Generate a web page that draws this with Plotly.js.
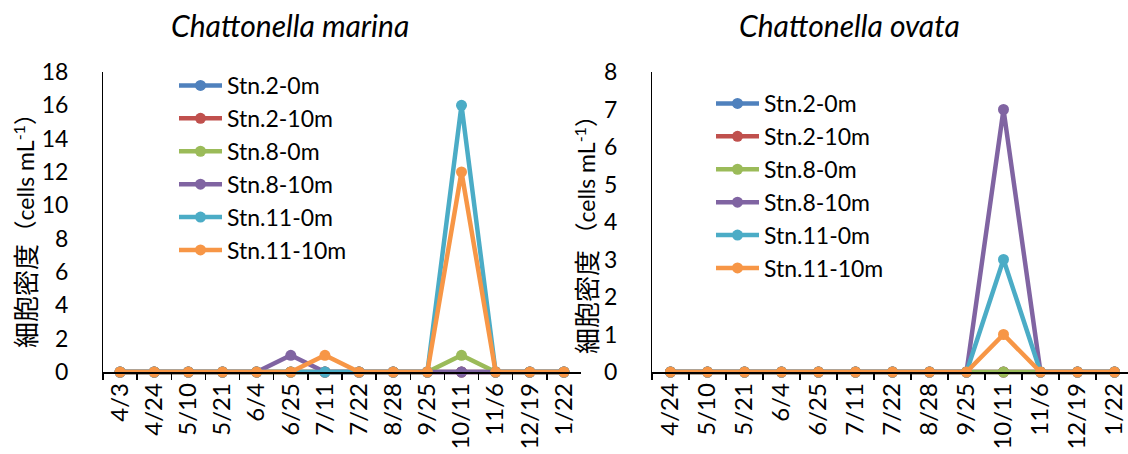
<!DOCTYPE html>
<html>
<head>
<meta charset="utf-8">
<script src="https://cdn.plot.ly/plotly-3.0.1.min.js"></script>
<style>
  html, body { margin: 0; padding: 0; background: #fff; }
  #chart { width: 1128px; height: 454px; }
</style>
</head>
<body>
<div id="chart"></div>
<script>
// Sampling dates
const datesMarina = ["4/3", "4/24", "5/10", "5/21", "6/4", "6/25", "7/11", "7/22", "8/28", "9/25", "10/11", "11/6", "12/19", "1/22"];
const datesOvata = ["4/24", "5/10", "5/21", "6/4", "6/25", "7/11", "7/22", "8/28", "9/25", "10/11", "11/6", "12/19", "1/22"];

const stationNames = ["Stn.2-0m", "Stn.2-10m", "Stn.8-0m", "Stn.8-10m", "Stn.11-0m", "Stn.11-10m"];
const stationColors = ["#4F81BD", "#C0504D", "#9BBB59", "#8064A2", "#4BACC6", "#F79646"];

// Chattonella marina cell density (cells mL-1)
const marinaStn2_0m  = [0, 0, 0, 0, 0, 0, 0, 0, 0, 0, 0, 0, 0, 0];
const marinaStn2_10m = [0, 0, 0, 0, 0, 0, 0, 0, 0, 0, 0, 0, 0, 0];
const marinaStn8_0m  = [0, 0, 0, 0, 0, 0, 0, 0, 0, 0, 1, 0, 0, 0];
const marinaStn8_10m = [0, 0, 0, 0, 0, 1, 0, 0, 0, 0, 0, 0, 0, 0];
const marinaStn11_0m = [0, 0, 0, 0, 0, 0, 0, 0, 0, 0, 16, 0, 0, 0];
const marinaStn11_10m = [0, 0, 0, 0, 0, 0, 1, 0, 0, 0, 12, 0, 0, 0];

// Chattonella ovata cell density (cells mL-1)
const ovataStn2_0m  = [0, 0, 0, 0, 0, 0, 0, 0, 0, 0, 0, 0, 0];
const ovataStn2_10m = [0, 0, 0, 0, 0, 0, 0, 0, 0, 0, 0, 0, 0];
const ovataStn8_0m  = [0, 0, 0, 0, 0, 0, 0, 0, 0, 0, 0, 0, 0];
const ovataStn8_10m = [0, 0, 0, 0, 0, 0, 0, 0, 0, 7, 0, 0, 0];
const ovataStn11_0m = [0, 0, 0, 0, 0, 0, 0, 0, 0, 3, 0, 0, 0];
const ovataStn11_10m = [0, 0, 0, 0, 0, 0, 0, 0, 0, 1, 0, 0, 0];

const marinaSeries = [marinaStn2_0m, marinaStn2_10m, marinaStn8_0m, marinaStn8_10m, marinaStn11_0m, marinaStn11_10m];
const ovataSeries = [ovataStn2_0m, ovataStn2_10m, ovataStn8_0m, ovataStn8_10m, ovataStn11_0m, ovataStn11_10m];

const FONT = "Lato, 'Noto Sans CJK JP', sans-serif";
const CJK_FONT = "'Noto Sans CJK JP', sans-serif";
const W = 1128, H = 454;
const px = v => v / W;
const py = v => (H - v) / H;

function makeTraces(dates, series, xa, ya, legendId) {
  return series.map((vals, i) => ({
    type: "scatter",
    mode: "lines+markers",
    x: dates,
    y: vals,
    xaxis: xa,
    yaxis: ya,
    name: stationNames[i],
    legend: legendId,
    legendgroup: legendId + i,
    line: { color: stationColors[i], width: 4.5 },
    marker: { color: stationColors[i], size: 11, symbol: "circle" },
    cliponaxis: false,
    hoverinfo: "x+y+name"
  }));
}

const traces = [
  ...makeTraces(datesMarina, marinaSeries, "x", "y", "legend"),
  ...makeTraces(datesOvata, ovataSeries, "x2", "y2", "legend2")
];

const zeroY = py(372);      // paper position of value 0
const topY = py(72);        // paper position of axis maximum
const padBottom = py(377);  // plot area reaches a little below zero

const xCommon = {
  type: "category",
  showline: true,
  linecolor: "#000",
  linewidth: 1.5,
  ticks: "outside",
  tickson: "boundaries",
  ticklen: 6,
  tickwidth: 1.5,
  tickcolor: "#000",
  tickangle: -90,
  tickfont: { family: FONT, size: 24, color: "#000" },
  showgrid: false,
  zeroline: false,
  fixedrange: true,
  anchor: "free",
  position: zeroY
};

const yCommon = {
  showline: true,
  linecolor: "#000",
  linewidth: 1,
  ticks: "outside",
  ticklen: 29,
  tickcolor: "rgba(0,0,0,0)",
  tickfont: { family: FONT, size: 23, color: "#000" },
  showgrid: false,
  zeroline: false,
  fixedrange: true,
  domain: [padBottom, topY]
};

const LEGEND_LINE = 43;

const legendCommon = {
  xanchor: "left",
  yanchor: "top",
  bgcolor: "rgba(0,0,0,0)",
  font: { family: FONT, size: 23, color: "#000" },
  traceorder: "grouped",
  tracegroupgap: 0,
  itemwidth: LEGEND_LINE,
  itemclick: false,
  itemdoubleclick: false
};

// Vertical axis title: Japanese part and unit part set at their own sizes
const yTitleJa = "細胞密度";
const yTitleUnit = "（cells mL<sup>-1</sup>）";

function yTitleParts(xPix, bottomPix, topPix) {
  return [
    {
      text: yTitleJa,
      xref: "paper", yref: "paper",
      x: px(xPix), y: py(bottomPix),
      xanchor: "center", yanchor: "bottom",
      textangle: -90,
      showarrow: false,
      font: { family: CJK_FONT, size: 26, color: "#000" }
    },
    {
      text: yTitleUnit,
      xref: "paper", yref: "paper",
      x: px(xPix), y: py(topPix),
      xanchor: "center", yanchor: "top",
      textangle: -90,
      showarrow: false,
      font: { family: FONT, size: 23, color: "#000" }
    }
  ];
}

const layout = {
  width: W,
  height: H,
  margin: { l: 0, r: 0, t: 0, b: 0 },
  paper_bgcolor: "#fff",
  plot_bgcolor: "rgba(0,0,0,0)",
  showlegend: true,
  xaxis: Object.assign({}, xCommon, {
    domain: [px(103), px(581)],
    range: [-0.5, 13.5]
  }),
  yaxis: Object.assign({}, yCommon, {
    anchor: "x",
    range: [-5 / (300 / 18), 18],
    tickvals: [0, 2, 4, 6, 8, 10, 12, 14, 16, 18]
  }),
  xaxis2: Object.assign({}, xCommon, {
    domain: [px(652), 1],
    range: [-0.5, 12.5 - (652 + 13 * 37 - W) / 37]
  }),
  yaxis2: Object.assign({}, yCommon, {
    anchor: "x2",
    range: [-5 / (300 / 8), 8],
    tickvals: [0, 1, 2, 3, 4, 5, 6, 7, 8]
  }),
  legend: Object.assign({}, legendCommon, { x: px(174), y: py(64) }),
  legend2: Object.assign({}, legendCommon, { x: px(711), y: py(82) }),
  annotations: [
    {
      text: "Chattonella marina",
      xref: "paper", yref: "paper",
      x: px(290), y: py(25),
      xanchor: "center", yanchor: "middle",
      showarrow: false,
      font: { family: FONT, size: 30, color: "#000", style: "italic" }
    },
    {
      text: "Chattonella ovata",
      xref: "paper", yref: "paper",
      x: px(849), y: py(25),
      xanchor: "center", yanchor: "middle",
      showarrow: false,
      font: { family: FONT, size: 30, color: "#000", style: "italic" }
    },
    ...yTitleParts(24, 350, 101),
    ...yTitleParts(585, 356, 103)
  ]
};

// Stretch the legend line samples to the item width, keeping the marker centred on them
function stretchLegendSymbols(gd) {
  gd.querySelectorAll(".legend .traces").forEach(item => {
    item.querySelectorAll(".legendlines path").forEach(p => {
      p.setAttribute("d", "M5,0h" + LEGEND_LINE);
    });
    item.querySelectorAll(".legendpoints path").forEach(p => {
      p.setAttribute("transform", "translate(" + (5 + LEGEND_LINE / 2) + ",0)");
    });
  });
}

Plotly.newPlot("chart", traces, layout, { staticPlot: true, displayModeBar: false })
  .then(gd => stretchLegendSymbols(gd));
</script>
</body>
</html>
